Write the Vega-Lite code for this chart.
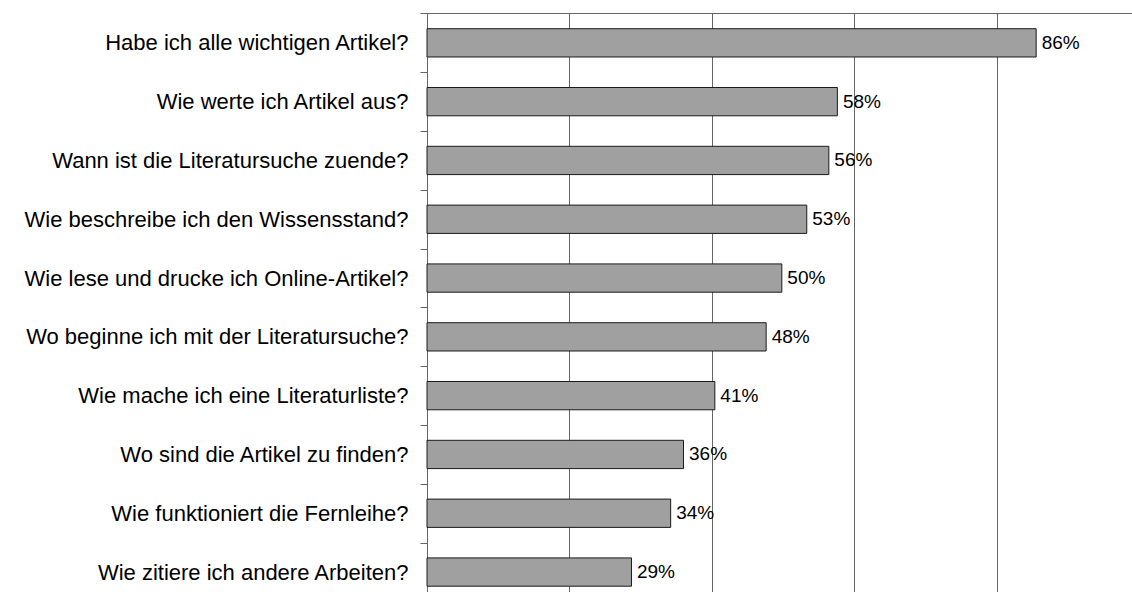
{
  "$schema": "https://vega.github.io/schema/vega-lite/v6.json",
  "width": 705,
  "height": 579,
  "autosize": {"type": "none"},
  "padding": {"left": 427, "top": 13, "right": 0, "bottom": 0},
  "background": "white",
  "config": {"view": {"stroke": null}, "font": "Liberation Sans"},
  "data": {
    "values": [
      {"frage": "Habe ich alle wichtigen Artikel?", "wert": 85.5, "label": "86%"},
      {"frage": "Wie werte ich Artikel aus?", "wert": 57.6, "label": "58%"},
      {"frage": "Wann ist die Literatursuche zuende?", "wert": 56.4, "label": "56%"},
      {"frage": "Wie beschreibe ich den Wissensstand?", "wert": 53.3, "label": "53%"},
      {"frage": "Wie lese und drucke ich Online-Artikel?", "wert": 49.8, "label": "50%"},
      {"frage": "Wo beginne ich mit der Literatursuche?\u2002", "wert": 47.6, "label": "48%"},
      {"frage": "Wie mache ich eine Literaturliste?", "wert": 40.4, "label": "41%"},
      {"frage": "Wo sind die Artikel zu finden?", "wert": 36.0, "label": "36%"},
      {"frage": "Wie funktioniert die Fernleihe?", "wert": 34.2, "label": "34%"},
      {"frage": "Wie zitiere ich andere Arbeiten?", "wert": 28.7, "label": "29%"}
    ]
  },
  "encoding": {
    "y": {
      "field": "frage",
      "type": "nominal",
      "sort": null,
      "scale": {"paddingInner": 0.519, "paddingOuter": 0.183, "align": 0.73},
      "axis": {
        "title": null,
        "orient": "left",
        "grid": false,
        "domainColor": "#666666",
        "tickColor": "#666666",
        "tickSize": 7,
        "bandPosition": 0,
        "tickOffset": -15.26,
        "labelOffset": 15.26,
        "labelPadding": 12,
        "labelFontSize": 22,
        "labelColor": "#000000",
        "labelFont": "Liberation Sans",
        "labelLimit": 0
      }
    },
    "x": {
      "field": "wert",
      "type": "quantitative",
      "scale": {"domain": [0, 98.95], "nice": false},
      "axis": {
        "orient": "top",
        "title": null,
        "labels": false,
        "ticks": false,
        "grid": true,
        "values": [0, 20, 40, 60, 80],
        "gridColor": "#666666",
        "gridOpacity": 1,
        "domainColor": "#666666"
      }
    }
  },
  "layer": [
    {"mark": {"type": "bar", "fill": "#a0a0a0", "stroke": "#1a1a1a", "strokeWidth": 1}},
    {
      "mark": {"type": "text", "align": "left", "baseline": "middle", "dx": 5.5, "fontSize": 19, "fill": "#000000", "font": "Liberation Sans"},
      "encoding": {"text": {"field": "label"}}
    }
  ]
}
